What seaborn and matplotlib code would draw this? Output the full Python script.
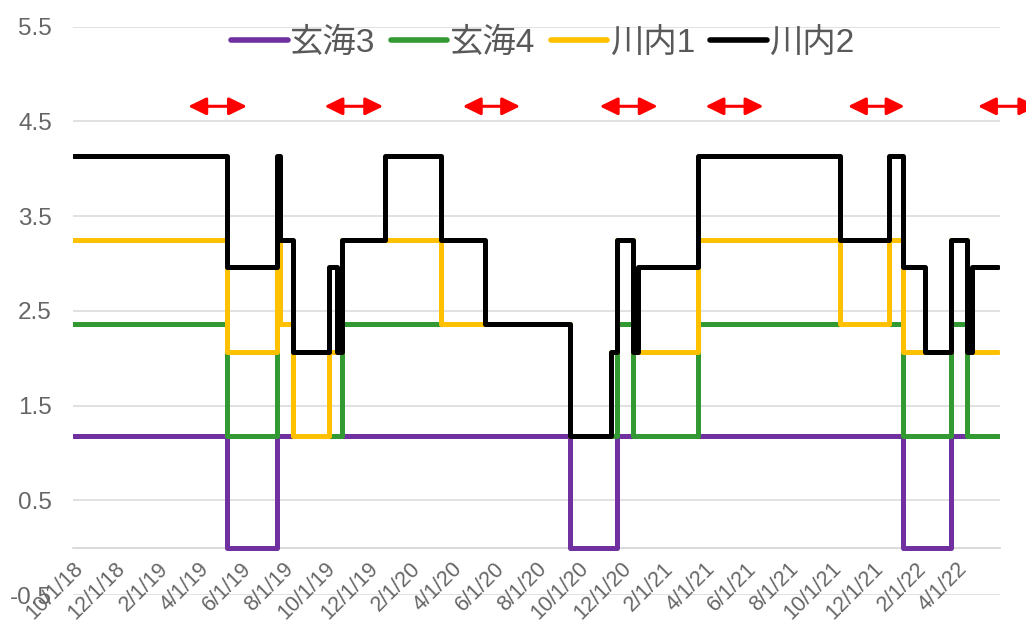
import matplotlib
matplotlib.use('Agg')
import matplotlib.pyplot as plt
from matplotlib.lines import Line2D
import numpy as np
import pandas as pd
import seaborn as sns

# ---------------- data ----------------
units = ['玄海3', '玄海4', '川内1', '川内2']
capacity_gw = [1.18, 1.18, 0.89, 0.89]
colors = ['#7030A0', '#339933', '#FFC000', '#000000']

period_start = '2018-10-01'
period_end = '2022-05-31'

# outage periods (start, end) per unit
genkai3_outages = [('2019-05-12', '2019-07-23'), ('2020-09-19', '2020-11-26'), ('2022-01-13', '2022-03-24')]
genkai4_outages = [('2019-08-16', '2019-10-25'), ('2020-12-19', '2021-03-23'), ('2022-04-16', '2022-06-30')]
sendai1_outages = [('2019-07-28', '2019-10-06'), ('2020-03-17', '2020-11-18'), ('2021-10-14', '2021-12-24')]
sendai2_outages = [('2019-10-18', '2019-12-27'), ('2020-05-19', '2020-12-26'), ('2022-02-14', '2022-04-24')]

# red double arrows
arrow_starts = ['2019-03-17', '2019-09-30', '2020-04-17', '2020-11-01', '2021-04-03', '2021-10-26', '2022-05-02']
arrow_ends = ['2019-06-10', '2019-12-24', '2020-07-09', '2021-01-24', '2021-06-26', '2022-01-16', '2022-07-27']
arrow_level = 4.66

tick_dates = pd.date_range('2018-10-01', '2022-04-01', freq='2MS')
y_ticks = [-0.5, 0.5, 1.5, 2.5, 3.5, 4.5, 5.5]

# ---------------- build stacked step data ----------------
outages = [genkai3_outages, genkai4_outages, sendai1_outages, sendai2_outages]
start_ts, end_ts = pd.Timestamp(period_start), pd.Timestamp(period_end)
events = {start_ts, end_ts}
for lst in outages:
    for s, e in lst:
        for t in (pd.Timestamp(s), pd.Timestamp(e)):
            if start_ts <= t <= end_ts:
                events.add(t)
events = sorted(events)

def is_on(lst, t):
    return not any(pd.Timestamp(s) <= t < pd.Timestamp(e) for s, e in lst)

rows = []
for t in events:
    cum = 0.0
    for name, cap, lst in zip(units, capacity_gw, outages):
        cum += cap if is_on(lst, t) else 0.0
        rows.append({'date': t, 'unit': name, 'value': round(cum, 2)})
df = pd.DataFrame(rows)

# ---------------- plot ----------------
sns.set_style('white')
plt.rcParams['font.family'] = ['Liberation Sans', 'Noto Sans CJK JP', 'DejaVu Sans']

fig = plt.figure(figsize=(10.26, 6.23), dpi=100)
ax = fig.add_axes([0.0709, 0.0449, 0.9038, 0.9122])

for y in y_ticks:
    ax.axhline(y, color='#d9d9d9', lw=1.1, zorder=0)

sns.lineplot(data=df, x='date', y='value', hue='unit', hue_order=units,
             palette=colors, drawstyle='steps-post', linewidth=3.6,
             estimator=None, errorbar=None, sort=True, legend=False, ax=ax,
             solid_joinstyle='round', solid_capstyle='round', zorder=3)

ax.set_xlim(pd.Timestamp('2018-10-01'), pd.Timestamp('2022-06-03'))
ax.set_ylim(-0.5, 5.5)
ax.set_yticks(y_ticks)
ax.set_yticklabels([f'{v:.1f}' for v in y_ticks])
ax.set_xticks(tick_dates)
ax.set_xticklabels([f'{d.month}/{d.day}/{d.year % 100}' for d in tick_dates])
ax.set_xlabel('')
ax.set_ylabel('')

for s in ['top', 'right', 'left']:
    ax.spines[s].set_visible(False)
ax.spines['bottom'].set_position(('data', 0))
ax.spines['bottom'].set_color('#cfcfcf')
ax.spines['bottom'].set_linewidth(1.1)
ax.spines['bottom'].set_zorder(1)

ax.tick_params(axis='y', length=0, pad=15, labelsize=17.5, labelcolor='#666666')
ax.tick_params(axis='x', length=3.6, width=1.1, color='#cfcfcf', pad=4,
               labelsize=15.5, labelcolor='#666666', direction='out')
for lab in ax.get_xticklabels():
    lab.set_rotation(45)
    lab.set_ha('right')
    lab.set_rotation_mode('anchor')

for s, e in zip(arrow_starts, arrow_ends):
    ax.annotate('', xy=(pd.Timestamp(e), arrow_level), xytext=(pd.Timestamp(s), arrow_level),
                xycoords='data', textcoords='data', annotation_clip=False,
                arrowprops=dict(arrowstyle='<|-|>,head_length=0.45,head_width=0.22',
                                color='#ff0000', lw=2.2, mutation_scale=24,
                                shrinkA=0, shrinkB=0))

handles = [Line2D([], [], color=c, lw=4, solid_capstyle='round') for c in colors]
ax.legend(handles, units, loc='center', bbox_to_anchor=(0.507, 0.971), ncol=4,
          frameon=False, fontsize=24, handlelength=1.7, handletextpad=0.08,
          columnspacing=0.45, labelcolor='#595959')

fig.savefig('out.png', dpi=100)
